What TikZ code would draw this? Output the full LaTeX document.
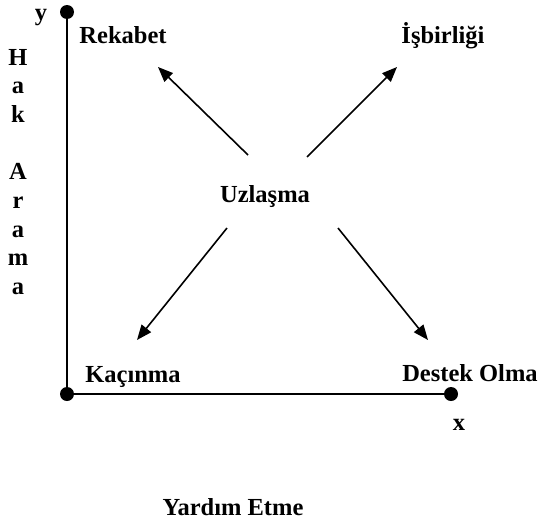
\documentclass[tikz,border=0pt]{standalone}
\usepackage{fontspec}
\setmainfont{Liberation Serif}
\usetikzlibrary{arrows.meta}
\begin{document}
\begin{tikzpicture}[x=1pt,y=-1pt,
  lbl/.style={font=\fontsize{24.5}{28.7}\selectfont\bfseries, inner sep=0pt, anchor=base},
  dot/.style={circle, fill=black, minimum size=14pt, inner sep=0pt},
  axis/.style={line width=2pt},
  arr/.style={line width=1.6pt, -{Triangle[length=15pt,width=12pt]}}]
\useasboundingbox (0,0) rectangle (538,525);
% axes
\node[dot] (ydot) at (67,12) {};
\node[dot] (origin) at (67,394) {};
\node[dot] (xdot) at (451,394) {};
\draw[axis] (ydot.center) -- (origin.center) -- (xdot.center);
\node[lbl] (ylab) at (41,20) {y};
\node[lbl] (xlab) at (459,430) {x};
% labels
\node[lbl] (rek) at (123,43) {Rekabet};
\node[lbl] (isb) at (443,43) {İşbirliği};
\node[lbl] (uzl) at (265,202) {Uzlaşma};
\node[lbl] (kac) at (133,382) {Kaçınma};
\node[lbl] (des) at (470,381) {Destek Olma};
\node[lbl] (yard) at (233,515) {Yardım Etme};
% vertical axis title
\foreach \ch/\yy [count=\i] in {H/65, a/93.7, k/122.4, A/179.8, r/208.5, a/237.2, m/265.9, a/294.6}
  \node[lbl] (hak\i) at (18,\yy) {\ch};
% arrow ends
\coordinate (s1) at (248,155); \coordinate (t1) at (158,67);
\coordinate (s2) at (307,157); \coordinate (t2) at (397,67);
\coordinate (s3) at (227,228); \coordinate (t3) at (137,340);
\coordinate (s4) at (338,228); \coordinate (t4) at (428,340);
\draw[arr] (s1) -- (t1);
\draw[arr] (s2) -- (t2);
\draw[arr] (s3) -- (t3);
\draw[arr] (s4) -- (t4);
\end{tikzpicture}
\end{document}
